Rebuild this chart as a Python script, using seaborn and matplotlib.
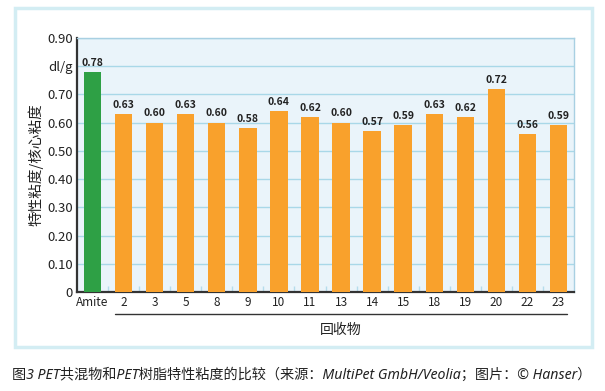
import numpy as np
import pandas as pd
import matplotlib.pyplot as plt
import seaborn as sns
from matplotlib.patches import Rectangle
from matplotlib.lines import Line2D

# データ
labels = ['Amite', '2', '3', '5', '8', '9', '10', '11', '13', '14',
          '15', '18', '19', '20', '22', '23']
values = [0.78, 0.63, 0.60, 0.63, 0.60, 0.58, 0.64, 0.62, 0.60, 0.57,
          0.59, 0.63, 0.62, 0.72, 0.56, 0.59]
groups = ['ref'] + ['rec'] * 15
ytick_vals = [0, 0.1, 0.2, 0.3, 0.4, 0.5, 0.6, 0.7, 0.8, 0.9]
ytick_labels = ['0', '0.10', '0.20', '0.30', '0.40', '0.50', '0.60',
                '0.70', 'dl/g', '0.90']

df = pd.DataFrame({'label': labels, 'value': values, 'group': groups})

sns.set_theme(style='white')
plt.rcParams['font.family'] = ['Noto Sans CJK SC', 'DejaVu Sans']

fig = plt.figure(figsize=(6.05, 3.91), dpi=100)
W, H = 605, 391

# 外枠 (軸より後ろに描く)
frame = Rectangle((15 / W, 1 - 347 / H), 577 / W, 339 / H,
                  transform=fig.transFigure, facecolor='white',
                  edgecolor='#d3edf3', linewidth=2.5, zorder=-10)
fig.add_artist(frame)

ax = fig.add_axes([77 / W, 1 - 292 / H, 497 / W, 254 / H])
ax.set_zorder(5)
ax.set_facecolor('#eaf4fa')

sns.barplot(data=df, x='label', y='value', hue='group',
            palette={'ref': '#2ea045', 'rec': '#f9a12c'}, saturation=1,
            width=0.56, dodge=False, legend=False, ax=ax, zorder=3,
            linewidth=0)

ax.set_ylim(0, 0.9)
ax.set_xlim(-0.5, len(labels) - 0.5)
ax.set_yticks(ytick_vals)
ax.set_yticklabels(ytick_labels, fontsize=9.5, color='#222222')
ax.set_xticks(range(len(labels)))
ax.set_xticklabels(labels, fontsize=8.5, color='#222222')
ax.tick_params(axis='x', which='major', length=0, pad=3)
ax.tick_params(axis='y', length=0, pad=3)
ax.set_xticks(np.arange(0.5, len(labels) - 1, 1), minor=True)
ax.tick_params(axis='x', which='minor', direction='in', length=4, width=1,
               color='#b5dcec', bottom=True)
ax.yaxis.grid(True, color='#a9d8e8', linewidth=1.0, zorder=0)
ax.set_axisbelow(True)
ax.set_xlabel('')
ax.set_ylabel('特性粘度/核心粘度', fontsize=10.5, color='#222222', labelpad=3)

for s in ['left', 'bottom']:
    ax.spines[s].set_color('#333333')
    ax.spines[s].set_linewidth(1.6)
for s in ['top', 'right']:
    ax.spines[s].set_color('#a8d0e2')
    ax.spines[s].set_linewidth(1.0)

# 値ラベル
for c in ax.containers:
    ax.bar_label(c, labels=[f'{v:.2f}' for v in c.datavalues], padding=3,
                 fontsize=7.5, fontweight='bold', color='#222222')

# 回収物の下線とラベル
fig.add_artist(Line2D([115 / W, 567 / W], [1 - 314 / H, 1 - 314 / H],
                      transform=fig.transFigure, color='#333333', linewidth=1.0))
fig.text(341 / W, 1 - 330 / H, '回收物', ha='center', va='center',
         fontsize=10, color='#222222')

# キャプション
fig.text(12 / W, 1 - 375 / H,
         '图3 PET共混物和PET树脂特性粘度的比较（来源：MultiPet GmbH/Veolia；图片：© Hanser）',
         ha='left', va='center', fontsize=10.2, style='italic', color='#222222',
         family=['Noto Sans', 'Noto Sans CJK SC', 'DejaVu Sans'])

fig.savefig('out.png', dpi=100)
